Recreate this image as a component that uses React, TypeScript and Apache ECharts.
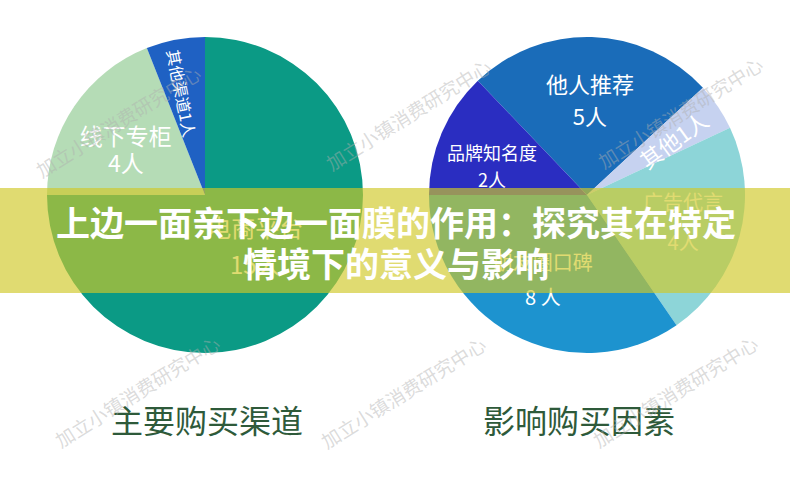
import React, { useEffect, useRef } from "react";
import * as echarts from "echarts";

// ---- data ----
const channelNames = ["电商平台", "线下专柜", "其他渠道"];
const channelShares = [15, 3.8, 1.2];
const channelCounts = ["15人", "4人", "1人"];

const factorNames = ["他人推荐", "其他", "广告代言", "朋友圈口碑", "品牌知名度"];
const factorShares = [5.05, 0.98, 4.48, 6.92, 2.57];
const factorCounts = ["5人", "1人", "4人", "8 人", "2人"];

const chartTitles = ["主要购买渠道", "影响购买因素"];
const bannerLines = ["上边一面亲下边一面膜的作用：探究其在特定", "情境下的意义与影响"];
const watermarkText = "加立小镇消费研究中心";

// ---- styling / layout ----
const FONT = '"Noto Sans CJK SC", "Noto Sans", sans-serif';
const channelColors = ["#0b9a85", "#b5dcb6", "#1f61c3"];
const factorColors = ["#1a6cb9", "#c6d2f0", "#8dd5d8", "#1d93cf", "#2a2dc1"];
const channelLabelStyle = [
  { fontSize: 24, lineHeight: 37, twoLines: true, ratio: 0.45, turn: 0 },
  { fontSize: 23, lineHeight: 27, twoLines: true, ratio: 0.58, turn: 4 },
  { fontSize: 16, lineHeight: 20, twoLines: false, rotate: -79, ratio: 0.66, turn: 2 },
];
const factorLabelStyle = [
  { fontSize: 22, lineHeight: 32, twoLines: true, ratio: 0.61, turn: 0 },
  { fontSize: 22, lineHeight: 26, twoLines: false, rotate: 36, ratio: 0.65, turn: -1 },
  { fontSize: 20, lineHeight: 40, twoLines: true, ratio: 0.63, turn: 0 },
  { fontSize: 20, lineHeight: 35, twoLines: true, ratio: 0.6, turn: 0 },
  { fontSize: 18, lineHeight: 27, twoLines: true, ratio: 0.63, turn: 6 },
];
const LEFT_CENTER = [205, 195];
const RIGHT_CENTER = [587, 195];
const LEFT_START = 90;
const RIGHT_START = 133.7;
const RADIUS = 158;
const watermarkSpots = [
  [118, 121], [408, 114], [680, 112],
  [137, 391], [403, 392], [675, 391],
];

function buildData(names: string[], shares: number[], counts: string[], colors: string[], styles: any[]) {
  return names.map((n, i) => {
    const st = styles[i];
    const label: any = {
      fontSize: st.fontSize,
      lineHeight: st.lineHeight,
      formatter: st.twoLines ? `${n}\n${counts[i]}` : `${n}${counts[i]}`,
    };
    if (st.rotate !== undefined) label.rotate = st.rotate;
    return { name: n, value: shares[i], itemStyle: { color: colors[i] }, label };
  });
}

// place each label along its slice's mid-angle at a chosen fraction of the radius
function radialLayout(center: number[], start: number, shares: number[], styles: any[]) {
  const total = shares.reduce((a, b) => a + b, 0);
  return (params: any) => {
    const i = params.dataIndex;
    let cum = 0;
    for (let k = 0; k < i; k++) cum += shares[k];
    const mid = start - ((cum + shares[i] / 2) / total) * 360 + (styles[i].turn || 0);
    const rad = (mid * Math.PI) / 180;
    const d = RADIUS * styles[i].ratio;
    return {
      x: center[0] + d * Math.cos(rad),
      y: center[1] - d * Math.sin(rad),
      align: "center",
      verticalAlign: "middle",
    };
  };
}

export default function App() {
  const ref = useRef<HTMLDivElement>(null);

  useEffect(() => {
    document.body.style.margin = "0";
    if (!ref.current) return;
    const chart = echarts.init(ref.current, undefined, { renderer: "svg" });

    const pieBase = {
      type: "pie",
      radius: RADIUS,
      clockwise: true,
      silent: true,
      label: {
        show: true,
        position: "inside",
        color: "#ffffff",
        fontFamily: FONT,
      },
      labelLine: { show: false },
      itemStyle: { borderWidth: 0 },
      emphasis: { disabled: true },
    };

    const graphics: any[] = [];
    watermarkSpots.forEach((p) => {
      graphics.push({
        type: "text",
        x: p[0],
        y: p[1],
        rotation: 0.56,
        z: 20,
        silent: true,
        style: {
          text: watermarkText,
          fontSize: 19,
          fontFamily: FONT,
          fill: "rgba(175,175,175,0.45)",
          align: "center",
          verticalAlign: "middle",
        },
      });
    });
    graphics.push({
      type: "rect",
      z: 30,
      silent: true,
      shape: { x: 0, y: 188, width: 790, height: 105 },
      style: { fill: "rgba(208,201,40,0.66)" },
    });
    bannerLines.forEach((t, i) => {
      graphics.push({
        type: "text",
        x: 396,
        y: 221 + i * 41,
        z: 40,
        silent: true,
        style: {
          text: t,
          fontSize: 34,
          fontWeight: "bold",
          fontFamily: FONT,
          fill: "#ffffff",
          align: "center",
          verticalAlign: "middle",
          shadowColor: "rgba(0,0,0,0.45)",
          shadowBlur: 3,
          shadowOffsetX: 1,
          shadowOffsetY: 1,
        },
      });
    });
    chartTitles.forEach((t, i) => {
      graphics.push({
        type: "text",
        x: i === 0 ? 207 : 579,
        y: 419,
        z: 10,
        silent: true,
        style: {
          text: t,
          fontSize: 32,
          fontFamily: FONT,
          fill: "#2e5a3a",
          align: "center",
          verticalAlign: "middle",
        },
      });
    });

    chart.setOption({
      animation: false,
      backgroundColor: "#ffffff",
      series: [
        {
          ...pieBase,
          center: LEFT_CENTER,
          startAngle: LEFT_START,
          data: buildData(channelNames, channelShares, channelCounts, channelColors, channelLabelStyle),
          labelLayout: radialLayout(LEFT_CENTER, LEFT_START, channelShares, channelLabelStyle),
        },
        {
          ...pieBase,
          center: RIGHT_CENTER,
          startAngle: RIGHT_START,
          data: buildData(factorNames, factorShares, factorCounts, factorColors, factorLabelStyle),
          labelLayout: radialLayout(RIGHT_CENTER, RIGHT_START, factorShares, factorLabelStyle),
        },
      ],
      graphic: graphics,
    });

    return () => chart.dispose();
  }, []);

  return <div ref={ref} style={{ width: 790, height: 482 }} />;
}
